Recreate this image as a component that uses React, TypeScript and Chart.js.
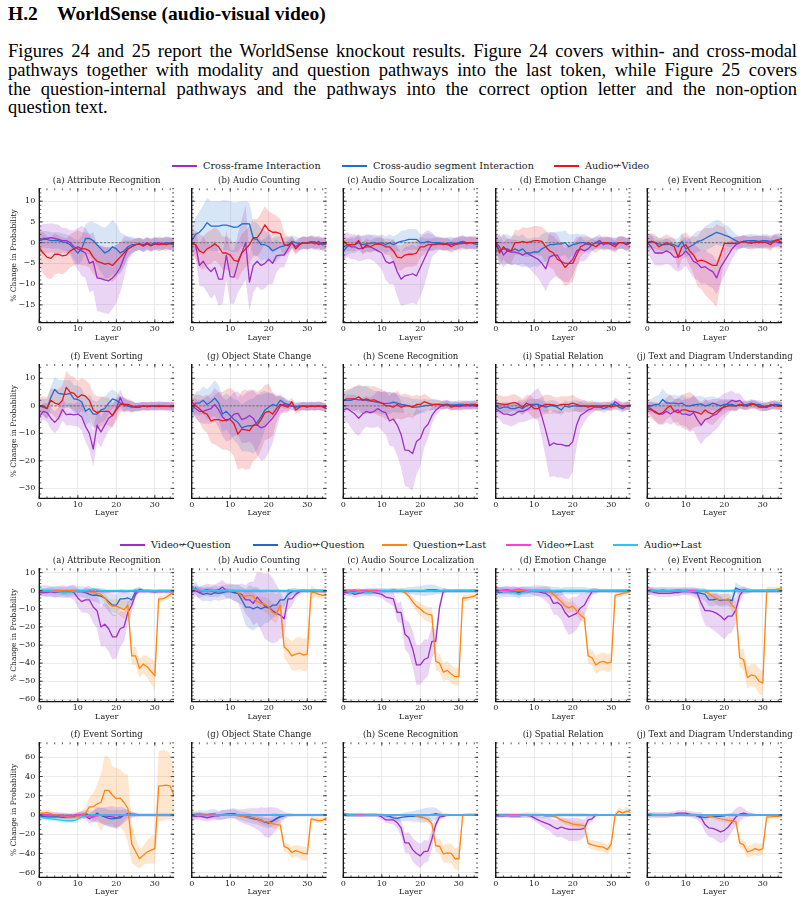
import React, { useEffect, useRef } from "react";
import { Chart, registerables } from "chart.js";

Chart.register(...registerables);

const SERIF = '"DejaVu Serif", serif';
const PAGE_FONT = '"Liberation Serif", "Times New Roman", serif';
const INK = "#222";

const TASKS = [
  "(a) Attribute Recognition",
  "(b) Audio Counting",
  "(c) Audio Source Localization",
  "(d) Emotion Change",
  "(e) Event Recognition",
  "(f) Event Sorting",
  "(g) Object State Change",
  "(h) Scene Recognition",
  "(i) Spatial Relation",
  "(j) Text and Diagram Understanding",
];

const X_TICKS = [0, 10, 20, 30];
const Y_TICKS_MODAL_1 = [10, 5, 0, -5, -10, -15];
const Y_TICKS_MODAL_2 = [10, 0, -10, -20, -30];
const Y_TICKS_PATH_1 = [10, 0, -10, -20, -30, -40, -50, -60];
const Y_TICKS_PATH_2 = [60, 40, 20, 0, -20, -40, -60];

// ---- Figure 24: within/cross-modal knockouts (one row of 36 layers per task) ----
const CROSS_FRAME = [
  [0.5,1,1,1.2,1,0.8,0.5,0.5,0,-1, -1.5,-2,-2.5,-5,-4.5,-8.5,-8.7,-9,-9.2,-8.5, -7.5,-6,-3.5,-1.5,-1,-0.5,-0.3,-0.5,0,-0.5, -0.3,0,-0.3,0,-0.3,-0.3],
  [0,-0.5,-5.5,-4.5,-6,-7,-6,-8.8,-8.8,-3, -8.2,-8.3,-5,-2.5,0,-9.5,-5.5,-4.5,-5.5,-5, -4,-5,-3.2,-3,-3,-1.5,0,-1,-0.3,0, -0.2,0,-0.3,0,-0.5,-0.3],
  [-1,-0.5,-1,-1,-1.5,-1.3,-1,-1,-1.5,-2, -2.5,-4.5,-5,-4.5,-7,-8.8,-8,-7.8,-7.5,-8, -6,-4,-2,-0.5,-0.5,-0.3,-0.3,-0.5,-0.5,-0.3, 0,0.2,-0.3,0,0,0],
  [0,-1,-3,-2,-2.3,-2.3,-2.5,-3,-2.5,-3, -3.5,-4,-5,-6.3,-3.5,-3,-3,-4.5,-5,-5, -4,-2,-1.5,-2,-1.5,-0.5,0,0.5,-0.5,0, -0.3,-0.5,0,0,-0.5,0],
  [0,-1,-2.5,-2.5,-2.5,-2,-2.5,-3.5,-3.5,-3, -2,-3,-4.5,-5,-6,-5.8,-6.5,-7,-8.5,-6, -4.5,-3,-1.5,-0.5,0,0.3,0,0.2,0,0.2, 0,0.2,0,0.3,0,0],
  [-4,-2,-2.5,-4.5,-6,-4.5,-1.3,-3.2,-3,-3.3, -3,-4,-7.5,-10,-15.7,-7,-9.5,-7,-4.5,-3.5, -1,3,0,0,-0.3,-0.5,-0.5,0,-0.3,0, -0.3,0,-0.2,0,-0.3,0],
  [0,-1,-2,-2,-1.5,-1,0.5,-1.5,-4,-5.5, -4.5,-3,-2.7,-5,-4.5,-3.5,-4.5,-7,-8,-7.5, -6,-4.5,-2.5,0,0.5,0,0,-0.5,-0.3,0, -0.3,0,-0.2,0,-0.3,-0.3],
  [-1.5,-1,-2,-3,-4.5,-3,-2,-2.5,-2,-1, -2,-2.5,-5.5,-4.8,-7,-10.4,-16.1,-16.2,-17.3,-13, -11.9,-8.2,-6.7,-3.6,-1.6,-0.5,0.5,0.5,0,0, -0.3,0,0,0.2,0,0],
  [-1,-2,-3,-3,-3.5,-3,-2,-2,-1.5,-0.5, 0.5,0.5,-4,-9,-14.5,-13.5,-14,-14,-14.5,-14.5, -13,-7,-3.5,-2.5,-1.5,-1,0,0,0,0, -0.5,1.5,0.5,-0.5,0,0],
  [-0.5,-1,-2.5,-3,-3,-2,-3,-2,-1.5,-3, -3,-3.5,-2.5,-5,-7,-5,-4.5,-3.5,-3,-1.5, 0,1,2,1.5,2,0.5,0,0.5,0.5,0, -0.5,0,0,0.5,0,0],
];
const CROSS_FRAME_SPREAD = [
  [3.5,3.5,3.5,3.5,3.5,3.5,3,3,3,4, 5,6,6,7,7,8,8,8,8,7.5, 7,6,5,3,2,1.5,1.5,1.5,1.5,1.5, 1.5,1.5,1.5,1.5,1.5,1.5],
  [2,3,5,6,6,6.5,6.5,6.5,6,6, 6.5,6.5,7,8,9,7,6.5,6,6,6, 6,5,4,3,3,2,1.5,1.5,1.5,1.5, 1.5,1.5,1.5,1.5,1.5,1.5],
  [3,3,3,3,3,3,3,3,3,3.5, 4,4.5,5,5.5,6,6.5,7,7,7,7, 7,6.5,5,3,2,1.5,1.5,1.5,1.5,1.5, 1.5,1.5,1.5,1.5,1.5,1.5],
  [2,3,3,3,3,3,3,3,3,3.5, 4,4.5,5,5.5,6,5.5,5,4.5,4.5,4.5, 4,3.5,3,2.5,2,1.5,1.5,1.5,1.5,1.5, 1.5,1.5,1.5,1.5,1.5,1.5],
  [2,3,3,3,3,3,3,3,3.5,3.5, 3.5,4,4,4,4,4,4,4,4,4, 3.5,3,2.5,2,1.5,1.5,1.5,1.5,1.5,1.5, 1.5,1.5,1.5,1.5,1.5,1.5],
  [3,3,3.5,4,4,4,4,4,4,4, 4.5,5,5.5,6,6.5,6,5.5,5,4.5,4, 3.5,3,2.5,2,2,1.5,1.5,1.5,1.5,1.5, 1.5,1.5,1.5,1.5,1.5,1.5],
  [3,3.5,4,4.5,5,5.5,6,6.5,7,7.5, 8,8,8,8.5,9,9.5,10,11,12,12, 11,9,6,3.5,2.5,2,1.5,1.5,1.5,1.5, 1.5,1.5,1.5,1.5,1.5,1.5],
  [4,5,6,7,6.5,6,5.5,5.5,6,6.5, 7,8,9,10,11,12,13,13.5,13.5,12, 10,7,5,3,2,1.5,1.5,1.5,1.5,1.5, 1.5,1.5,1.5,1.5,1.5,1.5],
  [2.5,3,3.5,4,4,4,4,4,4,4.5, 5,6,8,10,11.5,12,12,12,12,12, 11,8,5,3.5,2.5,2,1.5,1.5,1.5,1.5, 1.5,1.5,1.5,1.5,1.5,1.5],
  [2,2.5,3,3.5,4,4,4,4,4.5,5, 5.5,6,6.5,7,7,7,6.5,6,5.5,5, 4.5,4,3.5,3,2.5,2,1.5,1.5,1.5,1.5, 1.5,1.5,1.5,1.5,1.5,1.5],
];
const AUDIO_SEGMENT = [
  [0.5,0.8,0.8,0.5,0.5,0.5,0.2,0,-0.5,-1.5, -2.5,-1.5,1,1,0.5,-0.5,-1.5,-2.5,-2,-1, -1.5,-2.5,-2,-1,-0.5,-0.5,-0.3,-0.8,-0.3,-0.5, 0,-0.5,-0.3,0,-0.2,-0.7],
  [0.5,2,2.5,3.5,4.8,4,4,4,4.2,4.2, 4,3.7,3.8,4.5,4.6,4.5,1,0.8,-0.5,-0.5, -1,-2,-1.5,-1,-0.8,-0.5,0.3,0,-0.3,0, 0,0.2,-0.2,0.3,-0.5,0.3],
  [-2,-1,-0.5,-0.5,0,-0.5,-0.3,-0.2,0,-0.3, 0,-0.5,0,-0.5,0,0.3,0.5,0.8,0.8,0.8, 0,0,0.3,0,0,0,-0.3,-0.2,0,-0.3, 0,0.3,0,0,-0.3,-0.5],
  [0,-2,-1.5,-1.5,-2,-1.5,-2,-1.5,-2.5,-2.5, -2.2,-2.3,-1.5,-1,-0.5,-0.5,-0.3,-0.3,0,-1, -0.5,-0.3,0,0,-0.5,-0.5,0,-0.2,0,-0.3, 0,-0.3,0,0,-0.2,0],
  [0,0.3,0,-0.3,-0.5,-0.5,-0.3,-0.5,-1,0.3, -1.5,-1,-0.5,0.3,0.5,1,1.5,2,2.5,2.2, 1.8,1.5,1,0.5,0,0.3,0.5,0.5,0.5,0.3, 0.5,0.5,0.3,0.5,0.8,0.8],
  [0,-0.5,-1,3,6,4.5,4.3,4.2,4.5,2.5, 2.3,1.5,-2,-1,-3,-3,-1.5,-1,1,2.5, 2,1,0.5,0,-0.5,-0.3,0,-0.2,0,-0.3, 0,0.2,0,-0.2,-0.3,-0.3],
  [-2,1,1,2,0.5,1.5,2.8,1,-3,-2, -3.5,-5,-6,-8,-7.5,-7.2,-7.3,-6,-4,-1.5, -0.5,0.5,0,2,1,0.5,0,-0.3,0,-0.2, 0,-0.3,0,0,-0.3,-1],
  [2,2,2,2.5,2.2,2.3,2,1.7,1.5,1.3, 1,0.8,1,1.3,1,0.5,0.3,0,-0.5,-0.5, -0.3,0,0.2,0.3,0.5,0.5,0.3,0.5,0.3,0.3, 0.5,0.5,0.3,0.5,0.5,0.3],
  [0,-1,-0.5,-0.5,-1,-1,-0.5,-1,0,0.5, 0.5,0.5,0,-0.5,0,0,-0.5,-1.5,0,-0.5, 0,0,-0.2,0,0,0,0,-0.3,-1,-0.5, 0.5,0.5,-0.5,-1,0,0],
  [0,0,0.5,0.5,2.3,1,1,1,0.7,1, 0,0,0.3,0.5,0.7,0,0.3,1,0.5,0, 0.5,0.5,0.5,0,0.3,0.3,0.5,1,0.5,0.5, 0,-0.5,0,0.5,0.5,0],
];
const AUDIO_SEGMENT_SPREAD = [
  [2,2,2,2,2,2,2,2,2,2.5, 3,3,3.5,4,4.5,5,5.5,6,6.5,6.5, 6,5,4,2.5,2,1.5,1.5,1.5,1.5,1.5, 1.5,1.5,1.5,1.5,1.5,1.5],
  [3,4,5,5.5,6,6,6,6,6,6, 6,6,6,5.5,5.5,5,4,4,4,3.5, 3.5,3,3,2.5,2,2,1.5,1.5,1.5,1.5, 1.5,1.5,1.5,1.5,1.5,1.5],
  [2,2,2,2,2,2,2,2,2,2, 2,2,2,2,2,2.5,2.5,2.5,2.5,2.5, 2,2,2,2,1.5,1.5,1.5,1.5,1.5,1.5, 1.5,1.5,1.5,1.5,1.5,1.5],
  [2,3.5,3.5,3.5,3.5,3.5,3.5,3.5,3.5,3.5, 3.5,3.5,3.5,3.5,3,3,3,3,3,3, 2.5,2.5,2,2,2,1.5,1.5,1.5,1.5,1.5, 1.5,1.5,1.5,1.5,1.5,1.5],
  [1.5,1.5,1.5,1.5,1.5,1.5,1.5,1.5,2,2, 2,2,2.5,2.5,2.5,3,3,3,3,3, 2.5,2.5,2,1.5,1.5,1.5,1.5,1.5,1.5,1.5, 1.5,1.5,1.5,1.5,1.5,1.5],
  [2.5,3,3.5,4,4.5,5,5,5,5,5, 5,5,5,5,5,4.5,4.5,4.5,4,3.5, 3,2.5,2.5,2,2,1.5,1.5,1.5,1.5,1.5, 1.5,1.5,1.5,1.5,1.5,1.5],
  [3,4,4.5,5,5.5,6,6.5,6.5,6.5,6.5, 7,7.5,8,8.5,9,9.5,10,10,9,7, 5,4,3,2.5,2,1.5,1.5,1.5,1.5,1.5, 1.5,1.5,1.5,1.5,1.5,1.5],
  [3,3.5,4,4.5,5,5,5,4.5,4,4, 4,4,4,3.5,3.5,3,3,3,3,3, 2.5,2.5,2,2,1.5,1.5,1.5,1.5,1.5,1.5, 1.5,1.5,1.5,1.5,1.5,1.5],
  [2,2,2,2,2,2,2,2,2,2, 2,2,2,2,2,2,2,2,2,2, 2,2,2,2,1.5,1.5,1.5,1.5,1.5,1.5, 1.5,1.5,1.5,1.5,1.5,1.5],
  [2,2.5,3,3.5,4,3.5,3,3,3,3, 3,3,3,3,3,3,3,2.5,2.5,2.5, 2,2,2,2,1.5,1.5,1.5,1.5,1.5,1.5, 1.5,1.5,1.5,1.5,1.5,1.5],
];
const AUDIO_VIDEO = [
  [-1.2,-2.5,-3.5,-3.8,-2.8,-2.8,-3.2,-3,-2,-1.5, -1,-1.5,-1.5,-2,-3.5,-4.5,-4.8,-5.2,-5,-5.5, -4.5,-3.5,-2.5,-1.5,-1,-0.5,-0.3,-0.8,-0.3,-0.8, -0.3,-0.5,-0.3,-0.5,-0.2,-0.3],
  [-0.3,-0.5,-2,-2.5,-1.5,-1,-0.3,-1,-2.5,-2.5, -3,-4.3,-4.5,-2.5,-1.5,-0.5,1.2,1.2,2.5,4.3, 3,2.5,2.5,2.2,-0.5,-0.7,0,-1.5,-0.5,0, -0.2,0.2,0.2,-0.5,0,-0.3],
  [0.5,-0.5,-0.5,-0.5,0.5,-1.5,-0.5,-1,-0.5,-0.3, -0.5,-1,-1,-2,-3.5,-3.7,-3,-2.8,-2.8,-2.5, -1,-1,-0.5,-0.5,-0.3,-0.3,-0.5,-0.3,-1,-0.5, -0.3,-0.2,0,0,0,0],
  [0,-2.5,-1,-2,-2,0,0,0.3,0,0.2, 0.5,0.5,0.3,-1,-2,-2.5,-4,-4.5,-6,-5, -5,-3,-1,-0.5,0,-0.5,-1,-0.3,0,0, -0.5,-1,0,0,-0.5,0],
  [0,0.3,0,-1,-0.5,0,-0.5,-1,-3.5,-1, -0.5,-2,-3,-4.5,-4.2,-4.5,-5,-5.5,-5.5,-3, -0.2,-0.2,-0.1,-0.2,0,0.3,0,-0.2,0.2,0, 0.2,0,-0.5,0.5,0.5,0],
  [0,0,-1,2,1,0.5,2,6.7,5,4.5, 3,4,3.5,2,-1.5,-2.5,-2,-2,-2,-3.5, -1.5,0.5,0.5,0.5,0,-0.5,-0.5,0,-0.3,0, 0,-0.3,0,-0.2,0,-0.2],
  [1.5,0,-1,-2.5,-3,-5.5,-5,-5,-5.5,-5, -5,-6.5,-10.3,-8.5,-8.7,-9,-7,-7,-5,-2.5, -2,-3,-1,0.5,0,-0.5,1.5,-1.5,-0.5,0, -0.5,0,-0.3,0,-0.3,-1],
  [2,2.5,2.5,2.5,3.3,2,2.5,2,2.2,1.5, 1,0,0,-0.5,0.5,-0.5,0,0,-0.5,0.5, 0.5,1.5,1,0.5,0.5,0.5,0,0.5,-0.5,0, 0,0.2,0.5,0,0.5,0.3],
  [1,0.8,0.5,0.5,1,1.2,0.5,-0.5,1,0.3, -1,-1,0,0.5,0.5,0.3,0,0.5,0.5,0.5, 1,0.5,0,0,-0.5,0,-0.5,-0.5,0,0, -0.3,0,0.2,0,0,0.3],
  [-1,-1.5,-2,-3,-2.5,-1,0,-2,-2.5,-1.5, -1.5,-2,-2,-2.5,-3,-1.5,-2.5,-3,-2,-1, -0.5,0,0,0,0.5,0,0,0.5,0.5,-0.5, -0.5,-0.5,0.5,0,0,0],
];
const AUDIO_VIDEO_SPREAD = [
  [4.5,5,5,5,5,4.5,4.5,4,4,4, 4,4,4,4,4,4,4,4,4,4, 4,3.5,3,2,1.5,1.5,1.5,1.5,1.5,1.5, 1.5,1.5,1.5,1.5,1.5,1.5],
  [3,3.5,4,4,4,4,4,4,4,4, 4,4,4.5,4.5,4.5,4.5,4.5,4.5,4.5,4.5, 4.5,4.5,4,3.5,3,2,1.5,1.5,1.5,1.5, 1.5,1.5,1.5,1.5,1.5,1.5],
  [1.5,1.5,1.5,1.5,1.5,1.5,1.5,1.5,1.5,1.5, 1.5,2,2,2.5,3,3,3,3,3,3, 2.5,2,1.5,1.5,1.5,1.5,1.5,1.5,1.5,1.5, 1.5,1.5,1.5,1.5,1.5,1.5],
  [2,3,3,3,3,3,3,3.5,3.5,3.5, 3.5,3.5,3.5,4,4,4,4.5,4.5,4.5,5, 4.5,3.5,2.5,2,1.5,1.5,1.5,1.5,1.5,1.5, 1.5,1.5,1.5,1.5,1.5,1.5],
  [2,2,2,2,2,2,2,2,3,3, 3,3.5,4.5,6,7,8,8.5,9,10,7, 4,2,1.5,1.5,1.5,1.5,1.5,1.5,1.5,1.5, 1.5,1.5,1.5,1.5,1.5,1.5],
  [3,3.5,4,4.5,5,5.5,5.5,6,6,6, 6,6,6,6,6,6,5.5,5,5,4.5, 4,3,2.5,2,2,1.5,1.5,1.5,1.5,1.5, 1.5,1.5,1.5,1.5,1.5,1.5],
  [3,4,5,6,7,8,9,10,10.5,11, 11.5,12,13,14,14.5,14,13,12,11,10, 10,8,5,3,2.5,2,1.5,1.5,1.5,1.5, 1.5,1.5,1.5,1.5,1.5,1.5],
  [3,3.5,4,4.5,4.5,5,5,5,5,5, 5,5,5,5,5,4.5,4.5,4,4,3.5, 3,3,2.5,2,2,1.5,1.5,1.5,1.5,1.5, 1.5,1.5,1.5,1.5,1.5,1.5],
  [3,3,3,3,3,3,3,3,3,3.5, 3.5,3.5,3.5,3.5,3.5,3,3,3,3,3, 3,2.5,2.5,2,2,2,1.5,1.5,1.5,1.5, 1.5,1.5,1.5,1.5,1.5,1.5],
  [2.5,3,3.5,4,4,4,4,4.5,5,5.5, 6,7,6,5,4.5,4,4,4,3.5,3, 2.5,2,2,2,1.5,1.5,1.5,1.5,1.5,1.5, 1.5,1.5,1.5,1.5,1.5,1.5],
];

// ---- Figure 25: pathways into question / last token ----
const VIDEO_QUESTION = [
  [-1,-1,-1,-0.5,-1,-0.5,0,-0.5,-0.5,-1, -4,-6,-5,-5,-9,-11,-20,-18.5,-21,-25.5, -25.5,-21,-20,-12,-8,-2,0.5,0,0,-0.5, -0.5,-0.5,-0.5,0,-0.5,-0.5],
  [-0.5,0,-1,0,0.5,0,0,0.5,2,0, 0,-1,-1.5,-2,-5,-5,-7,-3.5,-6,-8.5, -9,-11,-12.5,-13.5,-15.5,-4.5,-4.5,-2,-0.5,0, 0,0,0,0,-0.3,-0.5],
  [-1,-1,-1,-2,-1.5,-1,-1,-1,-1,-1.5, -2,-3.5,-4,-4.5,-12,-12,-24,-26,-32,-41, -41,-38,-37,-28,-28,-9,0,0,0,0, 0,0,0,0,0,0],
  [0.5,0,0,0.5,0,0,-0.5,0,0,0, -0.5,-0.5,-1,-1.5,-3,-7,-6.5,-8,-12,-14.5, -13.5,-12.5,-9.5,-8,-4,-0.5,0,0,0,0, 0,0,0,0,0,0],
  [0,-0.3,-1,-1.5,-1.5,-1.5,-1.5,-1,-1,-0.5, -0.5,-0.5,-1,-1.5,-7,-11,-11,-11.5,-12.5,-14, -16,-14,-14,-10.5,-2.5,0.5,0,0,0,0, 0,0,0,0,0,0],
  [0,0,0,-0.5,-0.5,-0.5,-0.5,-1,-1,-0.5, 0,0,-1,-4,-1,0,-0.5,-1,-1.5,-2, -3,-1.5,-0.5,0,0,0,0,0,0,0, 0,0,0,0,0,0],
  [-1,-1.5,-1,-2,-3,-2,-1,-1,0,1, 1.5,1.5,0,-1,-1.5,-2,-3,-4,-5,-7.5, -8,-6,-3.5,-1.5,-0.5,0,0,0,0,0, 0,0,0,0,0,0],
  [1,0,0,0,0,0,0,0,0,-0.5, -2,-5,-5,-5,-8,-13.5,-29,-29,-36,-40, -42.5,-38,-37.5,-25,-10,-2,-1.5,0,0,0, 0,0,0,0,0,0],
  [-1,-1,-1,-0.5,-1,-1,-1,-0.5,-0.5,-1, -3,-5,-7,-8.5,-10,-12.5,-14.5,-12.5,-14,-15, -15,-15,-15,-14,-5,-4,0,0,0,0, 0,0,0,0,0,0],
  [0,0,0,0,0,0,0.5,1,2,2, 2,1,0,-1,-3,-10,-13.5,-14,-15.5,-17.5, -16,-12.5,-7.5,-2,1,2,1,0.5,0,0, 0,0,0,0,0,0],
];
const VIDEO_QUESTION_SPREAD = [
  [2,2,2.5,2.5,3,3,3,3,3.5,4, 5,6,7,8,9,10,11,12,12.5,12.5, 12,10,8,6,4,2,1.5,1,1,1, 1,1,1,1,1,1],
  [3,3,3,3,3.5,3.5,3.5,4,4,4, 4,4.5,5,6,8,10,12,14,16,18, 19,18,16,13,10,6,4,2,1.5,1, 1,1,1,1,1,1],
  [2,2,2,2,2,2,2,2,2,2, 2,2.5,3,4,5,6,8,9,10,11, 11,11,10,9,6,3,1.5,1,1,1, 1,1,1,1,1,1],
  [2,2,2,2,2,2,2,2,2,2, 2,2.5,3,4,5,6,7,8,9,10, 10,9,8,6,4,2,1.5,1,1,1, 1,1,1,1,1,1],
  [2,2,2,2,2,2,2,2,2,2, 2,2,2.5,3,6,8,9,10,10.5,11, 11,10,9,7,4,2,1.5,1,1,1, 1,1,1,1,1,1],
  [3,3,3,3,3,3,3,3,3,3, 3,3,3.5,5,6,7,8,9,10,11, 11,10,8,5,3,2,1.5,1.5,1.5,1.5, 1.5,1.5,1.5,1.5,1.5,1.5],
  [4,4,4,4,4,4,4,4,5,5, 5,5.5,6,7,8,9,10,11,13,15, 16,14,11,7,4,2,1.5,1.5,1.5,1.5, 1.5,1.5,1.5,1.5,1.5,1.5],
  [2,2,2,2,2,2,2,2,2,2, 2.5,3,4,5,6,8,10,11,12,12.5, 12.5,12,11,10,7,3,1.5,1,1,1, 1,1,1,1,1,1],
  [2,2,2,2,2,2,2,2,2,2, 3,4,5,6,7,8,9,10,11,12, 12,12,11,9,5,3,1.5,1,1,1, 1,1,1,1,1,1],
  [3,3,3,3,3,3,3,3,3,3, 3,3,3.5,4,6,8,9,10,11,12, 12,11,10,9,8,5,3,2,1.5,1, 1,1,1,1,1,1],
];
const AUDIO_QUESTION = [
  [0,0,0,-0.3,-0.5,-0.5,-1,-1,-0.5,0, -0.5,-0.5,-1,-2,-2.5,-2.5,-3,-4,-6,-8, -8,-4.5,-4.5,-4,-5,-0.5,0.5,0,0,0, -0.5,0,0,-0.5,0,0],
  [0,1.5,-1,-2,-1.5,-2,-1,-1.5,-1,-0.5, -0.5,-1,-1.5,-5,-9,-9,-10,-9,-10,-9, -9.5,-8,-8,-5,-5,-2,-0.5,0,0,0, 0,0,0,0,0,0],
  [0,-0.5,-0.5,-0.5,0,-0.5,0,0,0,0, 0,0,0,0,0,0,0,0,0,0, 0,0,0.5,0.5,0.5,0,0,0,0,0, 0,0,0,0,0,0],
  [-0.5,-1,-0.5,-0.5,-0.5,-0.5,-1,-0.5,-0.5,-0.5, 0,0,0,-0.5,-0.5,-0.5,-0.5,-0.5,0,0, 0,0,0,0,0,0,0,0,0,0, 0,0,0,0,0,0],
  [0,0,0,0,0,0,0,0,0,0, 0,0,0,-1,-1.5,-2,-5,-5,-4.5,-5.5, -5,-5,-5.5,1.5,0.5,0,0,0,0,0, 0,0,0,0,0,0],
  [-2,-1.5,-2,-2,-2,-2,-2.5,-2,-2,-2, -1,0.5,1.5,0,-2,2,-0.5,-2,-3.5,-4, -3.5,-3,0,1.5,1,0.5,0,0,0,0, 0,0,0,0,0,0],
  [0,0.5,1,0.5,0.5,1,1,-0.5,0.5,0.5, 1,1.5,0,-1,-2,-3,-4,-4.5,-6,-7.5, -8.5,-6.5,-4,-2,-1,0,0,0,0,0, 0,0,0,0,0,0],
  [0,0,0,0,0,0,0,0,0,0, 0,-1,-1.5,-3,-3.5,-2.5,-2,-1.5,-1.5,-1, -1,-0.5,0,0.5,1.5,0.5,0,0,0,0, 0,0,0,0,0,0],
  [0,0,0,0,-0.5,-0.5,-0.5,-0.5,0,0, 0,0,-0.5,-1,-1,-1,-0.5,0,0,0, 0,0,0,0,0,0,0,0,0,0, 0,0,0,0,0,0],
  [0,0,0,0,0,0,0,0,0,0, 0,0,0,-1,-2,-2.5,-2,-1.5,-1.5,-1.5, -1,0,0,0,0,0,0,0,0,0, 0,0,0,0,0,0],
];
const AUDIO_QUESTION_SPREAD = [
  [3,3,3,3,3,3,3,3,3,3, 3,3,3,3,3.5,4,4.5,5,5.5,6, 6,5.5,5,4,3,2,1.5,1,1,1, 1,1,1,1,1,1],
  [3,3.5,3.5,4,4,4,4,4,4,4, 4,4.5,5,7,10,12,12,11,10,9, 8,7,6,5,4,3,2,1.5,1,1, 1,1,1,1,1,1],
  [1.5,1.5,1.5,1.5,1.5,1.5,1.5,1.5,1.5,1.5, 1.5,1.5,1.5,1.5,1.5,1.5,1.5,2,2,2.5, 2.5,3,3,3,2.5,2,1.5,1,1,1, 1,1,1,1,1,1],
  [3,3,3,3,3,3,3,3,3,3, 3,3,3,3,3,2.5,2.5,2,2,2, 2,2,2,2,1.5,1.5,1.5,1,1,1, 1,1,1,1,1,1],
  [2,2,2,2,2,2,2,2,2,2, 2,2,2,2.5,3,3.5,3.5,3.5,3.5,3.5, 3.5,3.5,3.5,3,2.5,2,1.5,1,1,1, 1,1,1,1,1,1],
  [3,3,3,3,3,3,3,3,3,3, 3,3.5,4,5,6,7,8,9,9,9, 9,8,6,4,3,2,1.5,1.5,1.5,1.5, 1.5,1.5,1.5,1.5,1.5,1.5],
  [4,4,4,4,4.5,5,5,5,5,4.5, 4.5,4.5,4.5,4.5,5,5,5,5,5.5,5.5, 5.5,5,4,3,2,1.5,1.5,1,1,1, 1,1,1,1,1,1],
  [2,2,2,2,2,2,2,2,2,2, 2,2,2.5,3,3.5,4,4.5,5,5.5,6, 7,7.5,7.5,7.5,6,4,2,1.5,1,1, 1,1,1,1,1,1],
  [2,2,2,2,2.5,2.5,2.5,2.5,2.5,2.5, 2.5,2.5,2.5,2.5,2.5,2.5,2.5,2,2,2, 2,2,2,2,1.5,1.5,1.5,1,1,1, 1,1,1,1,1,1],
  [2,2,2,2,2,2,2,2,2,2, 2,2,2,2,2.5,2.5,2.5,2.5,2.5,2.5, 2,2,2,1.5,1.5,1.5,1.5,1,1,1, 1,1,1,1,1,1],
];
const QUESTION_LAST = [
  [0,0,0,0,0,0,0,0,0,0, 0,0,-0.5,-0.5,-1,-1.5,-2,-4,-7,-8.5, -8.5,-9.5,-10.5,-8,-36,-36,-43,-40.5,-42,-44.5, -47,-4.5,-4.5,-3.5,-2,-1],
  [0.5,0.5,0,0,0,0,0,0,0,0, 0,0,-1,-3,-3,-2.5,-3,-6,-7,-7.5, -9,-12,-13,-8,-31,-33,-36,-35,-34.5,-35.5, -35,-1,-1,-2,-2.5,-2.5],
  [0,0,0,0,0,0,0,0,0,0, 0,0,0,0.5,0,0,-1,-3,-6,-8.5, -10,-12,-13,-13.5,-39,-40,-45,-44,-46,-47.5, -47.5,-4,-4,-3.5,-3,-1.5],
  [0,0,0,0,0,0,0,0,0,0, 0,0,0,0,-0.5,-2,-4,-6,-8.5,-9.5, -8.5,-11,-13.5,-15,-36,-37,-41,-39.5,-39,-40, -39.5,-2.5,-2,-1.5,-1,0],
  [0,0,0,0,0,0,0,0,0,0, 0,0,0,0,0,-0.5,-1.5,-3,-4.5,-5, -5,-4.5,-8,-10,-37,-38,-48,-46.5,-47,-50, -51,0.5,0.5,0.5,1,1],
  [2,2,2.5,1.5,0,-0.5,-1,-1.5,-2,-2.5, -1.5,0,2,8.5,8.5,11.5,13,25.5,25.5,20.5, 17,17.5,13,7,-30,-38,-45.5,-42,-38.5,-36.5, -35,30,30.5,31,30,20],
  [0,0,0,0,0,0,0,0,0,0, 0.5,0,-1,-1.5,-2,-2.5,-3,-4,-5.5,-7, -7.5,-9,-10,-10.5,-33,-34.5,-39,-37,-38.5,-40, -40.5,-4,-5,-6,-5.5,-3],
  [0,0,0,0,0,0,0,0,0,0, 0,0,0,0,0,0,0,0,0,-1, -2.5,-3,-4.5,-9,-32,-32.5,-40.5,-39.5,-40,-45.5, -45.5,0,0.5,0.5,0.5,0.5],
  [0,0,0,0,0,0,0,0,0,0, 0,0,0,0,0,-1,-3,-5,-7,-8, -9.5,-10,-10.5,-11,-29.5,-31,-32,-33,-33.5,-36, -30,0,4,2,4,3],
  [0,0,0,0,0,0,0,0,0,0, 0,0,0,0,0,0,-1.5,-2,-3,-4, -4.5,-5.5,-6,-7,-29,-31,-38.5,-37,-35,-36.5, -35,-2,-2,-1.5,-1.5,-1],
];
const QUESTION_LAST_SPREAD = [
  [1,1,1,1,1,1,1,1,1,1, 1,1,1,1,1,1.5,2,2.5,3,3.5, 4,4.5,5,5,5,5,5,5,6,7, 8,2,1.5,1.5,1.5,1.5],
  [1,1,1,1,1,1,1,1,1,1, 1,1,1,1.5,2,2,2.5,3,3.5,4, 4.5,5,5,5,6,7,8,9,9,9, 9,4,2.5,2,2,2],
  [1,1,1,1,1,1,1,1,1,1, 1,1,1,1,1,1,1.5,2,2.5,3, 3.5,4,4,4.5,5,5,5,5,5,5, 5,2,1.5,1.5,1.5,1.5],
  [1,1,1,1,1,1,1,1,1,1, 1,1,1,1,1,1.5,2,2.5,3,3, 3,3,3,3,4,4.5,5,5,5,5, 5,2,1.5,1.5,1.5,1.5],
  [1,1,1,1,1,1,1,1,1,1, 1,1,1,1,1,1.5,2,2.5,3,3, 3,3,3.5,4,5,6,6,6,6.5,7, 7,2,1.5,1.5,1.5,1.5],
  [3,3,3,3,3,3,3,3,3,3, 4,5,6,10,14,20,30,36,35,30, 32,30,30,35,20,15,10,10,12,14, 15,36,37,36,34,25],
  [1,1,1,1,1,1,1,1,1,1, 1,1,1,1,1.5,2,2.5,3,3.5,4, 4,4.5,5,5,5,5,6,6,6.5,7, 7,3,2.5,2.5,2.5,2.5],
  [1,1,1,1,1,1,1,1,1,1, 1,1,1,1,1,1,1,1,1.5,2, 2.5,3,3.5,4,6,8,9,10,10,11, 12,2,1.5,1.5,1.5,1.5],
  [1,1,1,1,1,1,1,1,1,1, 1,1,1,1,1,1.5,2,2.5,3,3, 3,3,3,3,4,5,5,5,5,5, 5,3,4,4,4,4],
  [1,1,1,1,1,1,1,1,1,1, 1,1,1,1,1,1,1.5,2,2.5,3, 3,3,3,3.5,5,5.5,6,6,6.5,6.5, 6,2,2,2,2,2],
];
const VIDEO_LAST = [
  [-0.3,-0.5,-0.3,-0.5,-0.3,-0.3,-0.5,-0.3,-0.5,-0.3, -0.3,-0.5,-0.3,-0.5,-0.3,-0.3,-0.5,-0.5,-0.3,-0.5, -0.3,-0.3,-0.5,-0.3,-0.3,-0.5,-0.3,-0.5,-0.3,-0.3, -0.5,-0.3,-0.3,-0.5,-0.3,-0.3],
  [0,0.5,0,-0.5,0,0,-0.3,0,-0.5,0, 0,-0.3,0,0,-0.5,-0.3,0,0,-0.3,0, 0,-0.3,0,0,-0.3,0,0,-0.3,0,0, -0.3,0,0,-0.3,0,0],
  [0,-0.5,0,0.5,-0.5,0,0,-0.5,0,0, 0,-0.3,0,0,-0.3,0,0,-0.3,0,0, -0.3,0,0,0,-0.3,0,0,0,-0.3,0, 0,0,-0.3,0,0,0],
  [0.5,0,0.5,0,0,0.5,1,0.5,0,0, 0,0,0,0,0,-0.3,0,0,0,-0.3, 0,0,0,0,-0.3,0,0,0,0,0, -0.3,0,0,0,0,0],
  [0,0.5,0,0,0.5,0,0,0,0.5,0, 0,0,0,0,0,-0.3,0,0,0,0, -0.3,0,0,0,0,0,0,0,0,0, 0,0,0,0,0,0],
  [0,0,0,-0.5,-0.5,-0.5,-1,-1,-1,-0.5, 0,0,-1.5,-2,-2,-1,0,0,-0.5,-0.5, 0,0,0,0,0,0,0,0,0,0, 0,0,0,0,0,0],
  [0,0,0,-0.5,-0.5,0,0,0,0,0, 0,0,0,0,0,0,0,0,0,0, 0,0,0,0,0,0,0,0,0,0, 0,0,0,0,0,0],
  [0.5,0.5,0,0,0,0,0,0,0,0, 0,0,0,0,0,0,0,0,0,0, 0,0,0,0,0,0.5,0,0,0,0, 0,0,0,0,0,0],
  [0,0,0,0,0,0,0,0,0,0, 0,0,0,0,0,0,0,0,0,0, 0,0,0,0,0,0,0,0,0,0, 0,0,0,0,0,0],
  [0.5,0.5,0,0,0,0,0,0,0,0, 0,0,0,0,0,0,0,0,0,0, 0,0,0,0,0,0,0,0,0,0, 0,0,0,0,0,0],
];
const VIDEO_LAST_SPREAD = [
  [1,1,1,1,1,1,1,1,1,1, 1,1,1,1,1,1,1,1,1,1, 1,1,1,1,1,1,1,1,1,1, 1,1,1,1,1,1],
  [1.5,1.5,1.5,1.5,1.5,1.5,1.5,1.5,1.5,1.5, 1,1,1,1,1,1,1,1,1,1, 1,1,1,1,1,1,1,1,1,1, 1,1,1,1,1,1],
  [1,1,1,1,1,1,1,1,1,1, 1,1,1,1,1,1,1,1,1,1, 1,1,1,1,1,1,1,1,1,1, 1,1,1,1,1,1],
  [1.5,1.5,1.5,1.5,1.5,1.5,1.5,1.5,1,1, 1,1,1,1,1,1,1,1,1,1, 1,1,1,1,1,1,1,1,1,1, 1,1,1,1,1,1],
  [1.5,1.5,1.5,1.5,1.5,1.5,1.5,1.5,1,1, 1,1,1,1,1,1,1,1,1,1, 1,1,1,1,1,1,1,1,1,1, 1,1,1,1,1,1],
  [1.5,1.5,1.5,1.5,1.5,1.5,1.5,1.5,1.5,1.5, 1.5,1.5,2,2,2,1.5,1,1,1,1, 1,1,1,1,1,1,1,1,1,1, 1,1,1,1,1,1],
  [1.5,1.5,1.5,1.5,1.5,1.5,1,1,1,1, 1,1,1,1,1,1,1,1,1,1, 1,1,1,1,1,1,1,1,1,1, 1,1,1,1,1,1],
  [1.5,1.5,1,1,1,1,1,1,1,1, 1,1,1,1,1,1,1,1,1,1, 1,1,1,1,1,1,1,1,1,1, 1,1,1,1,1,1],
  [1,1,1,1,1,1,1,1,1,1, 1,1,1,1,1,1,1,1,1,1, 1,1,1,1,1,1,1,1,1,1, 1,1,1,1,1,1],
  [1.5,1.5,1,1,1,1,1,1,1,1, 1,1,1,1,1,1,1,1,1,1, 1,1,1,1,1,1,1,1,1,1, 1,1,1,1,1,1],
];
const AUDIO_LAST = [
  [0,0,0,0,-0.5,-0.5,-1,-1,-1,-0.5, 0,0,0,0.5,1,0.5,0,0,0,0, 0,0,0,0,0,0.5,0,0,0,0, 0,0,0,0,0,0],
  [1,1,0.5,0,0,0.5,0,0,0,0.5, 0,0,0,0,0,0,0,0,0,0, 0,0,0,0,0,0,0,0,0,0, 0,0,0,0,0,0],
  [0,-0.5,-1,-1,-0.5,-0.5,-1,-1,-0.5,-0.5, 0,0,0,0,0,0,0,0,0,0, 0,0,0,0,0,0,0,0,0,0, 0,0,0,0,0,0],
  [0,-0.5,-0.5,-0.5,-1,-1,-2,-1,-0.5,0, 0,0,0,0,0,0,0,0,0,0, 0,0,0,0,0,0,0,0,0,0, 0,0,0,0,0,0],
  [0,0,0,0,0,0,0,0,0,0, 0,-0.5,-0.5,0,0,0,0,0,0,0, 0,0,0,0.5,0,0,0,0,0,0, 0,0,0,0,0,0],
  [-2,-3,-3.5,-4,-4.5,-5,-5.5,-6,-6,-6, -4.5,-2,-1,0,0,0,0,0,0,0, 0,0,0,0,0,0,0,0,0,0, 0,0,0,0,0,0],
  [0,0,-0.5,-0.5,-0.5,-0.5,-0.5,0,0,0, 0,0,0,0,0,0,0,0,0,0, 0,0.5,0.5,0,0,0,0,0,0,0, 0,0,0,0,0,0],
  [1,0.5,0,0,-0.5,-0.5,0,0,0,0, 0,0,0,0,0,0,0,0,0,0, 0,0,0,0,0,0,0,0,0,0, 0,0,0,0,0,0],
  [0,0,0,-0.5,-0.5,-1,-0.5,0,0,0, 0,0,0,0,0,0,0,0,0,0, 0,0,0,0,0,0,0,0,0,0, 0,0,0,0,0,0],
  [0.5,0.5,0,0,0,0,0,0,0,0, 0,0,0,0,0,0,0,0,0,0, 0,0,0,0,0,0,0,0,0,0, 0,0,0,0,0,0],
];
const AUDIO_LAST_SPREAD = [
  [1.5,1.5,1.5,1.5,1.5,1.5,1.5,1.5,1.5,1.5, 1,1,1,1,1,1,1,1,1,1, 1,1,1,1,1,1,1,1,1,1, 1,1,1,1,1,1],
  [1.5,1.5,1.5,1.5,1.5,1.5,1,1,1,1, 1,1,1,1,1,1,1,1,1,1, 1,1,1,1,1,1,1,1,1,1, 1,1,1,1,1,1],
  [1.5,1.5,1.5,1.5,1.5,1.5,1.5,1.5,1.5,1.5, 1,1,1,1,1,1,1,1,1,1, 1,1,1,1,1,1,1,1,1,1, 1,1,1,1,1,1],
  [1.5,1.5,1.5,1.5,1.5,2,2,1.5,1.5,1, 1,1,1,1,1,1,1,1,1,1, 1,1,1,1,1,1,1,1,1,1, 1,1,1,1,1,1],
  [1,1,1,1,1,1,1,1,1,1, 1,1,1,1,1,1,1,1,1,1, 1,1,1,1.5,1,1,1,1,1,1, 1,1,1,1,1,1],
  [2,2,2.5,2.5,2.5,2.5,2.5,2.5,2.5,2.5, 2.5,2,1.5,1,1,1,1,1,1,1, 1,1,1,1,1,1,1,1,1,1, 1,1,1,1,1,1],
  [1.5,1.5,1.5,1.5,1.5,1.5,1.5,1,1,1, 1,1,1,1,1,1,1,1,1,1, 1,1,1,1,1,1,1,1,1,1, 1,1,1,1,1,1],
  [1.5,1.5,1.5,1.5,1.5,1.5,1,1,1,1, 1,1,1,1,1,1,1,1,1,1, 1,1,1,1,1,1,1,1,1,1, 1,1,1,1,1,1],
  [1.5,1.5,1.5,1.5,1.5,1.5,1.5,1,1,1, 1,1,1,1,1,1,1,1,1,1, 1,1,1,1,1,1,1,1,1,1, 1,1,1,1,1,1],
  [1.5,1.5,1,1,1,1,1,1,1,1, 1,1,1,1,1,1,1,1,1,1, 1,1,1,1,1,1,1,1,1,1, 1,1,1,1,1,1],
];

type SeriesSpec = { label: string; color: string; band: string; mean: number[][]; spread: number[][] };

const MODAL_SERIES: SeriesSpec[] = [
  { label: "Cross-frame Interaction", color: "#9b2fc6", band: "rgba(155,47,198,0.2)", mean: CROSS_FRAME, spread: CROSS_FRAME_SPREAD },
  { label: "Cross-audio segment Interaction", color: "#1f6fcf", band: "rgba(31,111,207,0.18)", mean: AUDIO_SEGMENT, spread: AUDIO_SEGMENT_SPREAD },
  { label: "Audio\u219AVideo", color: "#e8171d", band: "rgba(232,23,29,0.18)", mean: AUDIO_VIDEO, spread: AUDIO_VIDEO_SPREAD },
];

const PATH_SERIES: SeriesSpec[] = [
  { label: "Video\u219AQuestion", color: "#9b2fc6", band: "rgba(155,47,198,0.2)", mean: VIDEO_QUESTION, spread: VIDEO_QUESTION_SPREAD },
  { label: "Audio\u219AQuestion", color: "#2a63c9", band: "rgba(42,99,201,0.18)", mean: AUDIO_QUESTION, spread: AUDIO_QUESTION_SPREAD },
  { label: "Question\u219ALast", color: "#ff8411", band: "rgba(255,132,17,0.2)", mean: QUESTION_LAST, spread: QUESTION_LAST_SPREAD },
  { label: "Video\u219ALast", color: "#ff3fdc", band: "rgba(255,63,220,0.15)", mean: VIDEO_LAST, spread: VIDEO_LAST_SPREAD },
  { label: "Audio\u219ALast", color: "#2cc6f2", band: "rgba(44,198,242,0.18)", mean: AUDIO_LAST, spread: AUDIO_LAST_SPREAD },
];

type RowSpec = { series: SeriesSpec[]; first: number; top: number; bottom: number; min: number; max: number; ticks: number[]; minor: number };

const ROWS: RowSpec[] = [
  { series: MODAL_SERIES, first: 0, top: 188.3, bottom: 322.7, min: -19.3, max: 13.1, ticks: Y_TICKS_MODAL_1, minor: 1 },
  { series: MODAL_SERIES, first: 5, top: 364, bottom: 498.3, min: -33.6, max: 15.2, ticks: Y_TICKS_MODAL_2, minor: 2 },
  { series: PATH_SERIES, first: 0, top: 568.3, bottom: 701.7, min: -61.3, max: 12.4, ticks: Y_TICKS_PATH_1, minor: 2 },
  { series: PATH_SERIES, first: 5, top: 742.3, bottom: 877.3, min: -64.8, max: 75.6, ticks: Y_TICKS_PATH_2, minor: 5 },
];

const COL_X = [39.3, 191.7, 343.3, 495.7, 647.3];
const PLOT_W = 134.8;
const TITLE_SIZE = 8.5;
const TITLE_GAP = 2.6;
const TITLE_H = TITLE_SIZE * 1.2 + TITLE_GAP;
const X_AXIS_H = 20;

const minus = (v: number) => (v < 0 ? "\u2212" + Math.abs(v) : String(v));

// spines, inward ticks on all four sides, dashed zero reference
const axesFrame = {
  id: "axesFrame",
  beforeDatasetsDraw(chart: any) {
    const { ctx, chartArea: a } = chart;
    const y0 = chart.scales.y.getPixelForValue(0);
    ctx.save();
    ctx.strokeStyle = "rgba(120,120,120,0.9)";
    ctx.lineWidth = 1.2;
    ctx.setLineDash([2.2, 1.6]);
    ctx.beginPath();
    ctx.moveTo(a.left, y0);
    ctx.lineTo(a.right, y0);
    ctx.stroke();
    ctx.restore();
  },
  afterDraw(chart: any, _args: any, opts: any) {
    const { ctx, chartArea: a } = chart;
    const xs = chart.scales.x;
    const ys = chart.scales.y;
    ctx.save();
    ctx.lineWidth = 0.8;
    ctx.strokeStyle = "#333";
    ctx.beginPath();
    for (let v = 0; v <= 35; v += 2) {
      const px = xs.getPixelForValue(v);
      ctx.moveTo(px, a.bottom);
      ctx.lineTo(px, a.bottom - 2);
      ctx.moveTo(px, a.top);
      ctx.lineTo(px, a.top + 2);
    }
    for (const v of X_TICKS) {
      const px = xs.getPixelForValue(v);
      ctx.moveTo(px, a.bottom);
      ctx.lineTo(px, a.bottom - 3.5);
      ctx.moveTo(px, a.top);
      ctx.lineTo(px, a.top + 3.5);
    }
    const step = opts.minor;
    for (let v = Math.ceil(ys.min / step) * step; v <= ys.max; v += step) {
      const py = ys.getPixelForValue(v);
      ctx.moveTo(a.left, py);
      ctx.lineTo(a.left + 2, py);
      ctx.moveTo(a.right, py);
      ctx.lineTo(a.right - 2, py);
    }
    for (const v of opts.ticks) {
      const py = ys.getPixelForValue(v);
      ctx.moveTo(a.left, py);
      ctx.lineTo(a.left + 3.5, py);
      ctx.moveTo(a.right, py);
      ctx.lineTo(a.right - 3.5, py);
    }
    ctx.stroke();
    ctx.strokeStyle = "#111";
    ctx.lineWidth = 1.3;
    ctx.beginPath();
    ctx.moveTo(a.left, a.top);
    ctx.lineTo(a.left, a.bottom);
    ctx.lineTo(a.right, a.bottom);
    ctx.stroke();
    ctx.restore();
  },
};

function Panel({ row, col }: { row: RowSpec; col: number }) {
  const ref = useRef<HTMLCanvasElement>(null);
  const task = row.first + col;
  const plotL = COL_X[col];
  const plotR = plotL + PLOT_W;
  const first = col === 0;
  // equal-width gutters on both sides keep the full-width title centred on the plot
  const yW = first ? 36 : 14;
  const cx = first ? 0 : Math.floor(plotL - yW - 2);
  const cy = Math.floor(row.top - 20);
  const cw = Math.ceil(plotR + yW + 2) - cx;
  const ch = Math.ceil(row.bottom + 22) - cy;
  const pad = {
    left: plotL - yW - cx,
    right: cx + cw - plotR - yW,
    top: row.top - cy - TITLE_H,
    bottom: cy + ch - row.bottom - X_AXIS_H,
  };

  useEffect(() => {
    const datasets: any[] = [];
    row.series.forEach((s) => {
      const m = s.mean[task];
      const sp = s.spread[task];
      datasets.push({
        data: m.map((v, layer) => ({ x: layer, y: v + sp[layer] })),
        borderColor: "rgba(0,0,0,0)", borderWidth: 0, pointRadius: 0, fill: false, order: 50,
      });
      datasets.push({
        data: m.map((v, layer) => ({ x: layer, y: v - sp[layer] })),
        borderColor: "rgba(0,0,0,0)", borderWidth: 0, pointRadius: 0, fill: "-1", backgroundColor: s.band, order: 50,
      });
    });
    row.series.forEach((s, k) => {
      datasets.push({
        data: s.mean[task].map((v, layer) => ({ x: layer, y: v })),
        borderColor: s.color, borderWidth: 1.3, pointRadius: 0, fill: false,
        borderJoinStyle: "round", borderCapStyle: "round",
        order: row.series.length - k,
      });
    });

    const tickFont = { family: SERIF, size: 8 };
    const chart = new Chart(ref.current!, {
      type: "line",
      data: { datasets },
      plugins: [axesFrame],
      options: {
        animation: false,
        responsive: false,
        devicePixelRatio: 1,
        events: [],
        layout: { padding: pad },
        elements: { line: { tension: 0 }, point: { radius: 0 } },
        plugins: {
          legend: { display: false },
          tooltip: { enabled: false },
          filler: { drawTime: "beforeDatasetsDraw" },
          title: {
            display: true, text: TASKS[task], fullSize: true, color: INK,
            font: { family: SERIF, size: TITLE_SIZE, weight: "normal" },
            padding: { top: 0, bottom: TITLE_GAP },
          },
          axesFrame: { minor: row.minor, ticks: row.ticks },
        } as any,
        scales: {
          x: {
            type: "linear", min: 0, max: 35,
            afterBuildTicks: (s: any) => { s.ticks = X_TICKS.map((value) => ({ value })); },
            afterFit: (s: any) => { s.height = X_AXIS_H; },
            ticks: { font: tickFont, color: INK, padding: 1.5, maxRotation: 0, autoSkip: false },
            grid: { color: "#e4e4e4", lineWidth: 0.8, drawTicks: false },
            border: { display: false },
            title: { display: true, text: "Layer", color: INK, font: tickFont, padding: { top: 0, bottom: 0.2 } },
          },
          y: {
            type: "linear", min: row.min, max: row.max,
            afterBuildTicks: (s: any) => { s.ticks = row.ticks.map((value) => ({ value })); },
            afterFit: (s: any) => { s.width = yW; },
            ticks: { display: first, font: tickFont, color: INK, padding: 4, autoSkip: false, callback: (v: any) => minus(Number(v)) },
            grid: { color: "#e4e4e4", lineWidth: 0.8, drawTicks: false },
            border: { display: false },
            title: { display: first, text: "% Change in Probability", color: INK, font: { family: SERIF, size: 7.5 }, padding: { top: 6.2, bottom: 0 } },
          },
          gutter: {
            type: "linear", position: "right", min: 0, max: 1,
            afterFit: (s: any) => { s.width = yW; },
            ticks: { display: false },
            grid: { display: false },
            border: { display: false },
          },
        },
      } as any,
    });
    return () => chart.destroy();
  }, []);

  return (
    <canvas
      ref={ref}
      width={cw}
      height={ch}
      style={{ position: "absolute", left: cx, top: cy, width: cw, height: ch }}
    />
  );
}

function LegendItem({ x, y, color, label }: { x: number; y: number; color: string; label: string }) {
  return (
    <div
      style={{
        position: "absolute", left: x, top: y - 7, height: 14, display: "flex", alignItems: "center",
        whiteSpace: "nowrap", fontFamily: SERIF, fontSize: 9.7, color: INK,
      }}
    >
      <div style={{ width: 25, height: 2, background: color, marginRight: 6, flex: "none" }} />
      {label}
    </div>
  );
}

const MODAL_LEGEND_X = [172, 342, 554];
const PATH_LEGEND_X = [120, 253, 382, 506, 613];

const PARAGRAPH = [
  "Figures 24 and 25 report the WorldSense knockout results. Figure 24 covers within- and cross-modal",
  "pathways together with modality and question pathways into the last token, while Figure 25 covers",
  "the question-internal pathways and the pathways into the correct option letter and the non-option",
  "question text.",
];

export default function App() {
  return (
    <div style={{ position: "absolute", left: 0, top: 0, width: 804, height: 903, background: "#fff", overflow: "hidden" }}>
      <div style={{ position: "absolute", left: 8, top: 3, fontFamily: PAGE_FONT, fontWeight: "bold", fontSize: 19.5, lineHeight: "22px", whiteSpace: "pre", color: "#000" }}>
        H.2
      </div>
      <div style={{ position: "absolute", left: 57, top: 3, fontFamily: PAGE_FONT, fontWeight: "bold", fontSize: 19.5, lineHeight: "22px", whiteSpace: "pre", color: "#000" }}>
        WorldSense (audio-visual video)
      </div>
      <div style={{ position: "absolute", left: 8, top: 42, width: 789, fontFamily: PAGE_FONT, fontSize: 18.5, lineHeight: "18.8px", color: "#000" }}>
        {PARAGRAPH.map((line, i) => (
          <div key={i} style={{ textAlign: "justify", textAlignLast: i < PARAGRAPH.length - 1 ? "justify" : "left", whiteSpace: "nowrap" }}>
            {line}
          </div>
        ))}
      </div>
      {MODAL_SERIES.map((s, i) => (
        <LegendItem key={s.label} x={MODAL_LEGEND_X[i]} y={165.7} color={s.color} label={s.label} />
      ))}
      {PATH_SERIES.map((s, i) => (
        <LegendItem key={s.label} x={PATH_LEGEND_X[i]} y={544.7} color={s.color} label={s.label} />
      ))}
      {ROWS.map((row, r) => [0, 1, 2, 3, 4].map((c) => <Panel key={`${r}-${c}`} row={row} col={c} />))}
    </div>
  );
}
